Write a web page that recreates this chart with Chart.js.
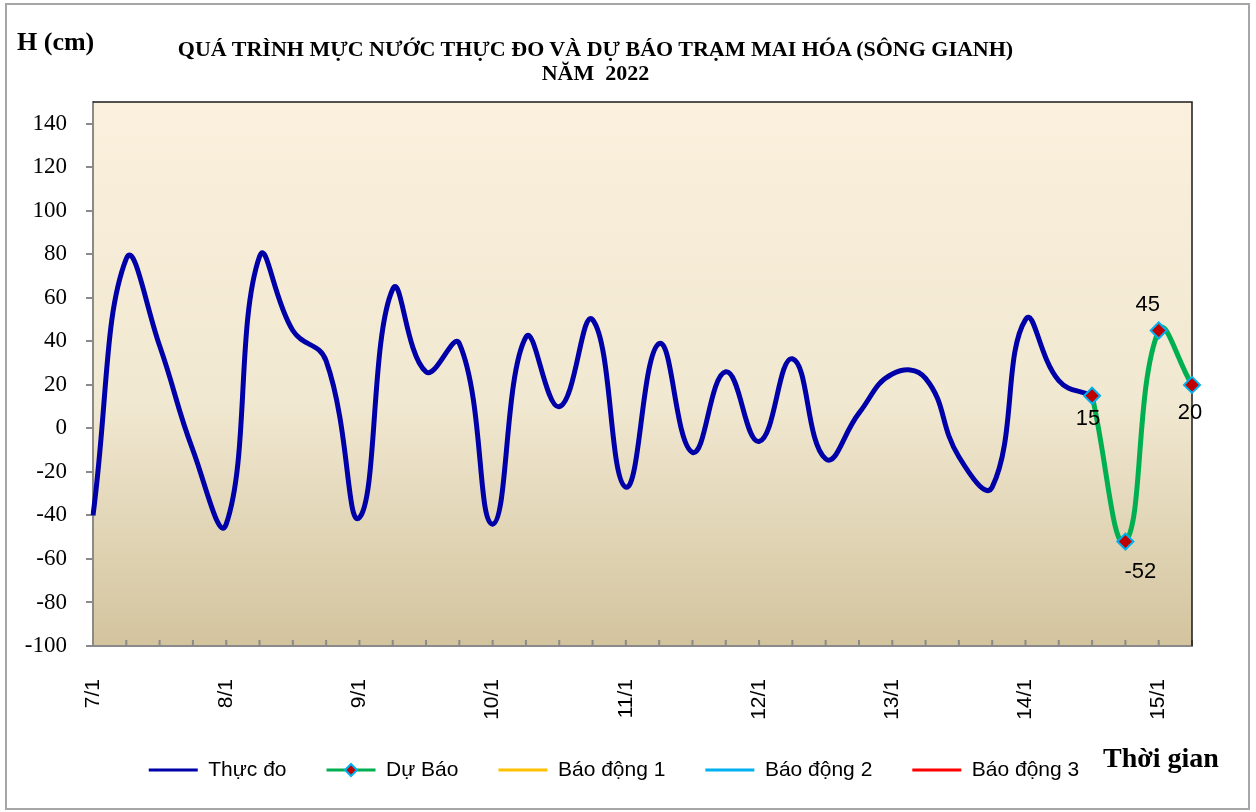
<!DOCTYPE html>
<html><head><meta charset="utf-8">
<script src="https://cdn.jsdelivr.net/npm/chart.js@4.4.1/dist/chart.umd.min.js"></script>
<style>
html,body{margin:0;padding:0;background:#fff;}
#wrap{position:relative;width:1256px;height:812px;overflow:hidden;background:#fff;}
canvas{position:absolute;left:0;top:0;}
#frame{position:absolute;left:5px;top:3px;width:1241px;height:803px;border:2px solid #a6a6a6;pointer-events:none;}
.t{position:absolute;font-family:"Liberation Serif","Times New Roman",serif;font-weight:bold;color:#000;white-space:nowrap;}
#ylab{left:17px;top:25px;font-size:26px;line-height:34px;}
#title{left:0;width:1191px;top:37px;font-size:22px;line-height:24px;text-align:center;}
#xlab{left:1103px;top:741px;font-size:28px;line-height:34px;}
</style></head><body>
<div id="wrap">
<canvas id="c" width="1256" height="812"></canvas>
<div id="frame"></div>
<div class="t" id="ylab">H (cm)</div>
<div class="t" id="title">QUÁ TRÌNH MỰC NƯỚC THỰC ĐO VÀ DỰ BÁO TRẠM MAI HÓA (SÔNG GIANH)<br>NĂM&nbsp; 2022</div>
<div class="t" id="xlab">Thời gian</div>
</div>
<script>
// ---- data ----
const categories = [
  "7/1 00h","7/1 06h","7/1 12h","7/1 18h",
  "8/1 00h","8/1 06h","8/1 12h","8/1 18h",
  "9/1 00h","9/1 06h","9/1 12h","9/1 18h",
  "10/1 00h","10/1 06h","10/1 12h","10/1 18h",
  "11/1 00h","11/1 06h","11/1 12h","11/1 18h",
  "12/1 00h","12/1 06h","12/1 12h","12/1 18h",
  "13/1 00h","13/1 06h","13/1 12h","13/1 18h",
  "14/1 00h","14/1 06h","14/1 12h","14/1 18h",
  "15/1 00h","15/1 06h"
];
const thucDo = [
  -40, 78, 38, -10,
  -44, 79, 45, 31,
  -41, 64, 26, 39,
  -44, 42, 10, 50,
  -27, 39, -11, 26,
  -6, 32, -14, 7,
  25, 23, -13, -27,
  50, 22, 15, null,
  null, null
];
const duBao = [
  null, null, null, null,
  null, null, null, null,
  null, null, null, null,
  null, null, null, null,
  null, null, null, null,
  null, null, null, null,
  null, null, null, null,
  null, null, 15, -52,
  45, 20
];
const baoDong1 = [];
const baoDong2 = [];
const baoDong3 = [];
const seriesNames = ["Thực đo", "Dự Báo", "Báo động 1", "Báo động 2", "Báo động 3"];
const yMin = -100, yMax = 150, yStep = 20;

// ---- styling helpers ----
const SANS = '"Liberation Sans", Arial, sans-serif';
const SERIF = '"Liberation Serif", "Times New Roman", serif';
const forecastLabelOffsets = [[-4, 23], [15, 30], [-11, -26], [-2, 28]];
const LEGEND_SHIFT = 36;

const bgPlugin = {
  id: 'bgPlugin',
  afterLayout(chart) {
    // shift the legend row to the right, like the original sheet
    if (chart.legend) { chart.legend.left = LEGEND_SHIFT; }
  },
  beforeDraw(chart) {
    const {ctx, chartArea: a} = chart;
    const g = ctx.createLinearGradient(0, a.top, 0, a.bottom);
    g.addColorStop(0, '#FAF0DD');
    g.addColorStop(0.55, '#F1E8D1');
    g.addColorStop(1, '#D3C49E');
    ctx.save();
    ctx.fillStyle = g;
    ctx.fillRect(a.left, a.top, a.right - a.left, a.bottom - a.top);
    ctx.restore();
  },
  beforeDatasetsDraw(chart) {
    const {ctx, chartArea: a, scales: {x}} = chart;
    ctx.save();
    ctx.strokeStyle = '#8a8a8a';
    ctx.lineWidth = 2;
    x.ticks.forEach((t, i) => {
      const px = x.getPixelForTick(i);
      ctx.beginPath();
      ctx.moveTo(px, a.bottom);
      ctx.lineTo(px, a.bottom - 6);
      ctx.stroke();
    });
    ctx.strokeStyle = '#1a1a1a';
    ctx.lineWidth = 1.5;
    ctx.beginPath();
    ctx.moveTo(a.left, a.top);
    ctx.lineTo(a.right, a.top);
    ctx.lineTo(a.right, a.bottom);
    ctx.stroke();
    ctx.restore();
  }
};

const labelPlugin = {
  id: 'labelPlugin',
  afterDatasetsDraw(chart) {
    const ctx = chart.ctx;
    const dsIndex = 1;
    const ds = chart.data.datasets[dsIndex];
    const meta = chart.getDatasetMeta(dsIndex);
    ctx.save();
    ctx.font = '22px ' + SANS;
    ctx.fillStyle = '#000';
    ctx.textAlign = 'center';
    ctx.textBaseline = 'middle';
    let j = 0;
    meta.data.forEach((pt, i) => {
      const v = ds.data[i];
      if (v === null || v === undefined) return;
      const off = forecastLabelOffsets[j++] || [0, -20];
      ctx.fillText(String(v), pt.x + off[0], pt.y + off[1]);
    });
    ctx.restore();
  },
  afterDraw(chart) {
    const lg = chart.legend;
    if (!lg || !lg.legendHitBoxes) return;
    const k = lg.legendItems.findIndex(it => it.datasetIndex === 1);
    if (k < 0) return;
    const hb = lg.legendHitBoxes[k];
    const bw = lg.options.labels.boxWidth;
    const cx = hb.left + bw / 2;
    const cy = hb.top + hb.height / 2;
    const r = 6;
    const ctx = chart.ctx;
    ctx.save();
    ctx.beginPath();
    ctx.moveTo(cx, cy - r);
    ctx.lineTo(cx + r, cy);
    ctx.lineTo(cx, cy + r);
    ctx.lineTo(cx - r, cy);
    ctx.closePath();
    ctx.fillStyle = '#C00000';
    ctx.fill();
    ctx.lineWidth = 2;
    ctx.strokeStyle = '#00B0F0';
    ctx.stroke();
    ctx.restore();
  }
};

new Chart(document.getElementById('c'), {
  type: 'line',
  data: {
    labels: categories,
    datasets: [
      {label: seriesNames[0], data: thucDo, borderColor: '#0000A8', backgroundColor: '#0000A8',
       borderWidth: 5, pointRadius: 0, tension: 0.45, order: 1},
      {label: seriesNames[1], data: duBao, borderColor: '#00B050', backgroundColor: '#00B050',
       borderWidth: 5, tension: 0.45, order: 0,
       pointStyle: 'rectRot', pointRadius: 8, pointHoverRadius: 8,
       pointBackgroundColor: '#C00000', pointBorderColor: '#00B0F0', pointBorderWidth: 2},
      {label: seriesNames[2], data: baoDong1, borderColor: '#FFC000', backgroundColor: '#FFC000', borderWidth: 2, pointRadius: 0, order: 2},
      {label: seriesNames[3], data: baoDong2, borderColor: '#00B0F0', backgroundColor: '#00B0F0', borderWidth: 2, pointRadius: 0, order: 3},
      {label: seriesNames[4], data: baoDong3, borderColor: '#FF0000', backgroundColor: '#FF0000', borderWidth: 2, pointRadius: 0, order: 4}
    ]
  },
  options: {
    responsive: false,
    maintainAspectRatio: false,
    animation: false,
    layout: {padding: {left: 0, right: 64, top: 102, bottom: 21.5}},
    plugins: {
      title: {display: false},
      tooltip: {enabled: false},
      legend: {
        display: true,
        position: 'bottom',
        align: 'center',
        labels: {
          boxWidth: 49, boxHeight: 3, padding: 40, color: '#000',
          font: {family: SANS, size: 21},
          sort: (a, b) => a.datasetIndex - b.datasetIndex,
          generateLabels(chart) {
            const items = Chart.defaults.plugins.legend.labels.generateLabels(chart);
            items.forEach(it => {
              const ds = chart.data.datasets[it.datasetIndex];
              it.fillStyle = ds.borderColor;
              it.strokeStyle = ds.borderColor;
              it.lineWidth = 0;
            });
            return items;
          }
        }
      }
    },
    scales: {
      x: {
        type: 'category',
        offset: false,
        afterFit: s => { s.height = 73.5; },
        grid: {display: false},
        border: {display: true, color: '#8a8a8a', width: 2},
        ticks: {
          autoSkip: false, minRotation: 90, maxRotation: 90, padding: 25,
          color: '#000', font: {family: SANS, size: 21},
          callback: (v, i) => categories[i].endsWith('00h') ? categories[i].split(' ')[0] : ''
        }
      },
      y: {
        min: yMin, max: yMax,
        afterFit: s => { s.width = 93; },
        grid: {display: true, drawOnChartArea: false, drawTicks: true, tickLength: 7, color: '#8a8a8a', lineWidth: 2},
        border: {display: true, color: '#8a8a8a', width: 2},
        ticks: {stepSize: yStep, includeBounds: false, padding: 19, color: '#000',
                font: {family: SERIF, size: 23}}
      }
    }
  },
  plugins: [bgPlugin, labelPlugin]
});
</script>
</body></html>
